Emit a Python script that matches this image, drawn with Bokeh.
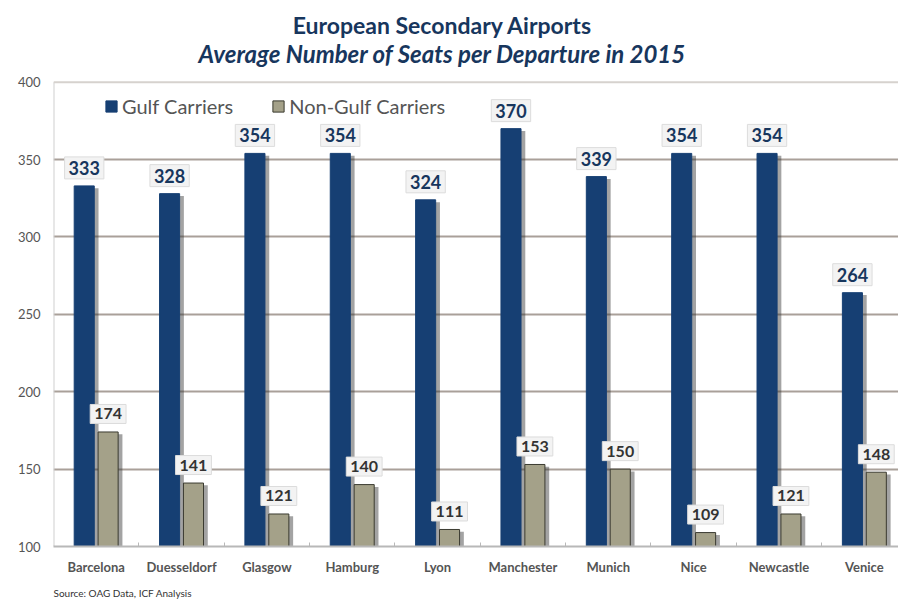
from bokeh.plotting import figure
from bokeh.models import ColumnDataSource, Title, Label, Legend, LegendItem, FixedTicker, Range1d, Span
from bokeh.core.properties import value
from bokeh.embed import file_html
from bokeh.resources import INLINE

cities = ["Barcelona", "Duesseldorf", "Glasgow", "Hamburg", "Lyon",
          "Manchester", "Munich", "Nice", "Newcastle", "Venice"]
gulf = [333, 328, 354, 354, 324, 370, 339, 354, 354, 264]
non_gulf = [174, 141, 121, 140, 111, 153, 150, 109, 121, 148]
y_ticks = [100, 150, 200, 250, 300, 350, 400]

FONT = "Lato"
BLUE = "#163f73"
KHAKI = "#a4a189"
NAVY = "#17365d"

centers = [i + 0.5 for i in range(len(cities))]
off = 0.14
bw = 0.235

# vertical layout: value 100 at 548 px, 400 at 82 px; frame runs to the top of the page
H, BOTTOM, TOP_PX = 605, 57, 82
frame_h = H - BOTTOM
plot_h = frame_h - TOP_PX
y_end = y_ticks[-1] + TOP_PX * (y_ticks[-1] - y_ticks[0]) / plot_h

src = ColumnDataSource(dict(
    xg=[c - off for c in centers], xn=[c + off for c in centers],
    xgs=[c - off + 0.05 for c in centers], xns=[c + off + 0.05 for c in centers],
    g=gulf, n=non_gulf,
    gs=[v - 1.5 for v in gulf], ns=[v - 1.5 for v in non_gulf],
    gl=[str(v) for v in gulf], nl=[str(v) for v in non_gulf],
))

p = figure(width=898, height=H, output_backend="svg", toolbar_location=None,
           x_range=Range1d(0, 9.9), y_range=Range1d(y_ticks[0], y_end),
           min_border_left=53, min_border_right=0, min_border_top=0, min_border_bottom=BOTTOM)
p.outline_line_color = None
p.background_fill_color = "white"

p.xgrid.grid_line_color = None
p.ygrid.ticker = FixedTicker(ticks=y_ticks[1:-1])
p.ygrid.grid_line_color = "#a9a099"
p.ygrid.grid_line_width = 2
p.add_layout(Span(location=y_ticks[-1], dimension="width", line_color="#d6d2ce", line_width=2))

p.yaxis.ticker = FixedTicker(ticks=y_ticks)
p.yaxis.axis_line_color = None
p.yaxis.major_tick_line_color = None
p.yaxis.minor_tick_line_color = None
p.yaxis.major_label_text_font = FONT
p.yaxis.major_label_text_font_size = "13px"
p.yaxis.major_label_text_color = "#555555"
p.yaxis.major_label_standoff = 7
p.segment(x0=0, y0=y_ticks[0], x1=0, y1=y_ticks[-1], line_color="#d0d0d0", line_width=2)

p.xaxis.ticker = FixedTicker(ticks=centers, minor_ticks=list(range(1, 10)))
p.xaxis.major_label_overrides = {c: name for c, name in zip(centers, cities)}
p.xaxis.axis_line_color = "#b8b8b8"
p.xaxis.axis_line_width = 2
p.xaxis.major_tick_line_color = None
p.xaxis.minor_tick_line_color = "#b8b8b8"
p.xaxis.minor_tick_in = 4
p.xaxis.minor_tick_out = 0
p.xaxis.major_label_text_font = FONT
p.xaxis.major_label_text_font_size = "13px"
p.xaxis.major_label_text_font_style = "bold"
p.xaxis.major_label_text_color = "#555555"
p.xaxis.major_label_standoff = 6

p.vbar(x="xgs", top="gs", bottom=y_ticks[0], width=bw, source=src, fill_color="#333333",
       fill_alpha=0.45, line_color=None)
p.vbar(x="xns", top="ns", bottom=y_ticks[0], width=bw, source=src, fill_color="#333333",
       fill_alpha=0.45, line_color=None)

rg = p.vbar(x="xg", top="g", bottom=y_ticks[0], width=bw, source=src, fill_color=BLUE,
            line_color=BLUE)
rn = p.vbar(x="xn", top="n", bottom=y_ticks[0], width=bw, source=src, fill_color=KHAKI,
            line_color="#3a3a30", line_width=1)

p.text(x="xg", y="g", text="gl", source=src, y_offset=-18,
       text_align="center", text_baseline="middle",
       text_font=value(FONT), text_font_size="18px", text_font_style="bold",
       text_color=NAVY, background_fill_color="#f3f3f3",
       border_line_color="#dcdcdc", padding=4)
p.text(x="xn", y="n", text="nl", source=src, y_offset=-18,
       text_align="center", text_baseline="middle",
       text_font=value(FONT), text_font_size="16px", text_font_style="bold",
       text_color="#333333", background_fill_color="#f3f3f3",
       border_line_color="#dcdcdc", padding=4)

legend = Legend(items=[LegendItem(label="Gulf Carriers", renderers=[rg]),
                       LegendItem(label="Non-Gulf Carriers", renderers=[rn])],
                orientation="horizontal", location=(51, 428),
                label_text_font=FONT, label_text_font_size="20px",
                label_text_color="#555555", glyph_width=14, glyph_height=14,
                spacing=38, label_standoff=4, background_fill_alpha=0,
                border_line_color=None, padding=4, margin=0)
p.add_layout(legend)

p.add_layout(Label(x=389, y=frame_h - 26, x_units="screen", y_units="screen",
                   text="European Secondary Airports", text_align="center",
                   text_baseline="middle", text_font=FONT, text_font_size="23px",
                   text_font_style="bold", text_color=NAVY))
p.add_layout(Label(x=389, y=frame_h - 55, x_units="screen", y_units="screen",
                   text="Average Number of Seats per Departure in 2015", text_align="center",
                   text_baseline="middle", text_font=FONT, text_font_size="24px",
                   text_font_style="bold italic", text_color=NAVY))
p.add_layout(Title(text="Source: OAG Data, ICF Analysis", align="left",
                   text_font=FONT, text_font_size="10px", text_font_style="normal",
                   text_color="#333333", offset=0, standoff=14), "below")

open("out.html", "w").write(file_html(p, INLINE))
